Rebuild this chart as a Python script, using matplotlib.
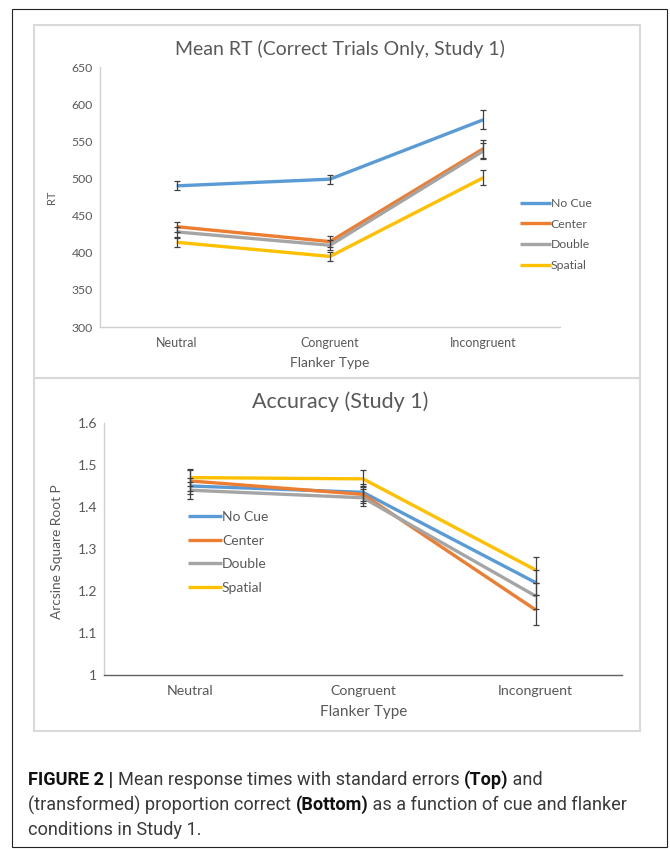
import matplotlib
matplotlib.use("Agg")
import matplotlib.pyplot as plt
from matplotlib.patches import Rectangle

W, H = 670, 849

categories = ["Neutral", "Congruent", "Incongruent"]
series = ["No Cue", "Center", "Double", "Spatial"]
colors = ["#5B9BD5", "#ED7D31", "#A5A5A5", "#FFC000"]

rt_nocue = [490, 499, 579]
rt_center = [435, 415, 540]
rt_double = [428, 410, 537]
rt_spatial = [414, 395, 501]
rt_err_nocue = [6, 6, 13]
rt_err_center = [7, 7, 12]
rt_err_double = [7, 7, 11]
rt_err_spatial = [6, 6, 10]

acc_nocue = [1.450, 1.435, 1.220]
acc_center = [1.462, 1.430, 1.155]
acc_double = [1.440, 1.422, 1.188]
acc_spatial = [1.470, 1.467, 1.250]
acc_err_nocue = [0.02, 0.02, 0.03]
acc_err_center = [0.025, 0.02, 0.035]
acc_err_double = [0.02, 0.02, 0.03]
acc_err_spatial = [0.02, 0.02, 0.03]

rt_ticks = [300, 350, 400, 450, 500, 550, 600, 650]
acc_ticks = [1, 1.1, 1.2, 1.3, 1.4, 1.5, 1.6]
acc_ticklabels = ["1", "1.1", "1.2", "1.3", "1.4", "1.5", "1.6"]

FONT = "Lato"
TXT = "#595959"

fig = plt.figure(figsize=(W / 100, H / 100), dpi=100)


def fx(x):
    return x / W


def fy(y):
    return 1 - y / H


def box(x0, y0, x1, y1, color, lw):
    fig.add_artist(Rectangle((fx(x0), fy(y1)), fx(x1) - fx(x0), fy(y0) - fy(y1),
                             transform=fig.transFigure, fill=False,
                             edgecolor=color, linewidth=lw))


# outer frame and panel boxes
box(12, 9, 667, 847, "#222222", 0.8)
box(34, 25, 640, 378, "#D9D9D9", 1.5)
box(34, 378, 640, 731, "#D9D9D9", 1.5)


def make_axes(x0, y0, x1, y1):
    return fig.add_axes([fx(x0), fy(y1), fx(x1) - fx(x0), fy(y0) - fy(y1)])


def style(ax, spine_color, xsize, ysize):
    for s in ["top", "right"]:
        ax.spines[s].set_visible(False)
    ax.spines["left"].set_color("#D0D0D0")
    ax.spines["bottom"].set_color(spine_color)
    ax.spines["left"].set_linewidth(1.0)
    ax.spines["bottom"].set_linewidth(1.0)
    ax.tick_params(length=0, labelcolor=TXT)
    ax.tick_params(axis="x", labelsize=xsize)
    ax.tick_params(axis="y", labelsize=ysize)
    for lab in ax.get_xticklabels() + ax.get_yticklabels():
        lab.set_fontfamily(FONT)


xs = list(range(len(categories)))

# ---------- Top panel ----------
ax1 = make_axes(100, 67, 560, 327)
rt_vals = [rt_nocue, rt_center, rt_double, rt_spatial]
rt_errs = [rt_err_nocue, rt_err_center, rt_err_double, rt_err_spatial]
handles = []
for vals, c, name in zip(rt_vals, colors, series):
    h, = ax1.plot(xs, vals, color=c, lw=2.4, label=name, solid_capstyle="butt", zorder=2)
    handles.append(h)
for vals, errs in zip(rt_vals, rt_errs):
    ax1.errorbar(xs, vals, yerr=errs, fmt="none", ecolor="#404040", elinewidth=0.9,
                 capsize=2.5, capthick=0.9, zorder=3)
ax1.set_xlim(-0.5, 2.5)
ax1.set_ylim(300, 650)
ax1.set_yticks(rt_ticks)
ax1.set_xticks(xs)
ax1.set_xticklabels(categories)
style(ax1, "#D0D0D0", 9, 8.8)
ax1.tick_params(axis="x", pad=7)
ax1.tick_params(axis="y", pad=5)
fig.text(fx(340), fy(49), "Mean RT (Correct Trials Only, Study 1)", fontsize=14, color=TXT,
         family=FONT, ha="center", va="center")
fig.text(fx(330), fy(363), "Flanker Type", fontsize=10, color=TXT, family=FONT,
         ha="center", va="center")
fig.text(fx(52), fy(197), "RT", fontsize=8, color=TXT, family=FONT, rotation=90,
         ha="center", va="center")
leg1 = fig.legend(handles=handles, loc="upper left",
                  bbox_to_anchor=(fx(520), fy(198)), frameon=False,
                  prop={"family": FONT, "size": 8.8}, handlelength=2.5,
                  handletextpad=0.0, labelspacing=0.79, borderaxespad=0, borderpad=0)
for t in leg1.get_texts():
    t.set_color(TXT)

# ---------- Bottom panel ----------
ax2 = make_axes(104, 423, 622, 675)
acc_vals = [acc_nocue, acc_center, acc_double, acc_spatial]
acc_errs = [acc_err_nocue, acc_err_center, acc_err_double, acc_err_spatial]
handles2 = []
for vals, c, name in zip(acc_vals, colors, series):
    h, = ax2.plot(xs, vals, color=c, lw=2.4, label=name, solid_capstyle="butt", zorder=2)
    handles2.append(h)
for vals, errs in zip(acc_vals, acc_errs):
    ax2.errorbar(xs, vals, yerr=errs, fmt="none", ecolor="#404040", elinewidth=0.9,
                 capsize=2.5, capthick=0.9, zorder=3)
ax2.set_xlim(-0.5, 2.5)
ax2.set_ylim(1.0, 1.6)
ax2.set_yticks(acc_ticks)
ax2.set_yticklabels(acc_ticklabels)
ax2.set_xticks(xs)
ax2.set_xticklabels(categories)
style(ax2, "#606060", 10.2, 10)
ax2.tick_params(axis="x", pad=7)
ax2.tick_params(axis="y", pad=5)
fig.text(fx(340), fy(402), "Accuracy (Study 1)", fontsize=15.5, color=TXT, family=FONT,
         ha="center", va="center")
fig.text(fx(364), fy(712), "Flanker Type", fontsize=11, color=TXT, family=FONT,
         ha="center", va="center")
fig.text(fx(57), fy(552), "Arcsine Square Root P", fontsize=9.8, color=TXT, family=FONT,
         rotation=90, ha="center", va="center")
leg2 = fig.legend(handles=handles2, loc="upper left",
                  bbox_to_anchor=(fx(188), fy(511)), frameon=False,
                  prop={"family": FONT, "size": 10}, handlelength=2.45,
                  handletextpad=0.0, labelspacing=0.83, borderaxespad=0, borderpad=0)
for t in leg2.get_texts():
    t.set_color(TXT)

# ---------- Caption ----------
cap_lines = [
    [("FIGURE 2 | ", "bold"), ("Mean response times with standard errors ", "normal"),
     ("(Top)", "bold"), (" and", "normal")],
    [("(transformed) proportion correct ", "normal"), ("(Bottom)", "bold"),
     (" as a function of cue and flanker", "normal")],
    [("conditions in Study 1.", "normal")],
]
cap_y = [780, 805, 830]
CAP_FONT = "Roboto"
fig.canvas.draw()
renderer = fig.canvas.get_renderer()


def line_width(line, size):
    total = 0
    tmp = []
    for txt, wt in line:
        t = fig.text(0, 0, txt, fontsize=size, fontweight=wt, family=CAP_FONT)
        total += t.get_window_extent(renderer=renderer).width
        tmp.append(t)
    for t in tmp:
        t.remove()
    return total


base = 10.0
r1 = 521.0 / line_width(cap_lines[0], base)
r2 = 592.0 / line_width(cap_lines[1], base)
cap_size = base * (r1 + r2) / 2

for line, y in zip(cap_lines, cap_y):
    x = 28
    for txt, wt in line:
        t = fig.text(fx(x), fy(y), txt, fontsize=cap_size, fontweight=wt, family=CAP_FONT,
                     color="#3a3a3a" if wt == "normal" else "#111111", va="center", ha="left")
        bb = t.get_window_extent(renderer=renderer)
        x += bb.width

fig.savefig("out.png", dpi=100)
